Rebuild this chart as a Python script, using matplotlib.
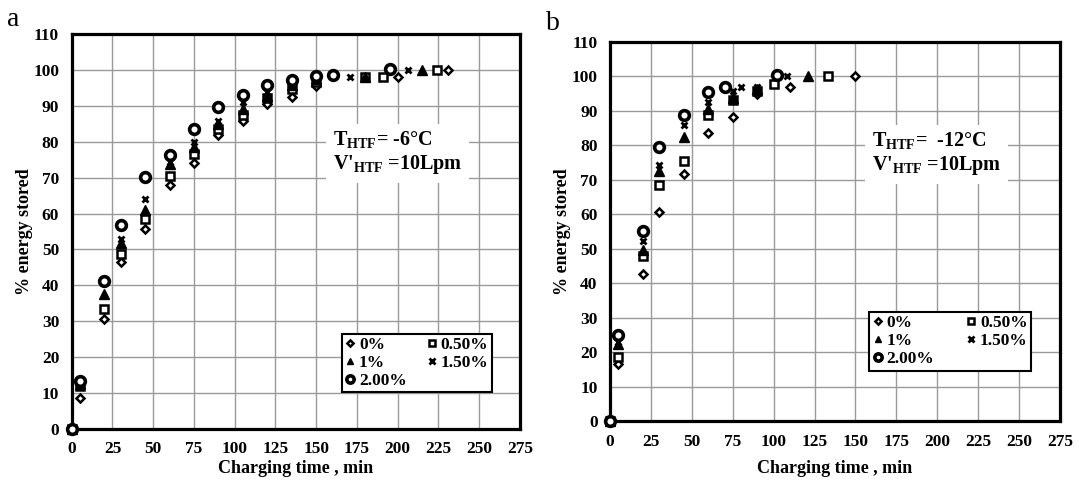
import matplotlib
matplotlib.use("Agg")
import matplotlib.pyplot as plt

plt.rcParams['font.family'] = ['Liberation Serif', 'DejaVu Serif']
plt.rcParams['mathtext.fontset'] = 'custom'
plt.rcParams['mathtext.rm'] = 'Liberation Serif:bold'
plt.rcParams['mathtext.it'] = 'Liberation Serif:bold'
plt.rcParams['mathtext.bf'] = 'Liberation Serif:bold'

labels = ["0%", "0.50%", "1%", "1.50%", "2.00%"]

# Panel a: T_HTF = -6 C
a_t0 = [0, 5, 20, 30, 45, 60, 75, 90, 105, 120, 135, 150, 200, 231]
a_v0 = [0, 8.7, 30.6, 46.6, 55.7, 67.9, 74.1, 81.8, 85.8, 90.6, 92.6, 95.6, 98.1, 100]
a_t1 = [0, 5, 20, 30, 45, 60, 75, 90, 105, 120, 135, 150, 180, 191, 224]
a_v1 = [0, 11.8, 33.3, 48.8, 58.6, 70.6, 76.5, 83.6, 87.6, 92.2, 94.8, 96.8, 98.1, 98.1, 100]
a_t2 = [0, 5, 20, 30, 45, 60, 75, 90, 105, 120, 135, 150, 180, 215]
a_v2 = [0, 12.5, 37.5, 51.8, 61.0, 73.8, 78.5, 85.0, 89.2, 92.8, 95.8, 97.4, 98.2, 100]
a_t3 = [0, 5, 20, 30, 45, 60, 75, 90, 105, 120, 135, 150, 171, 206]
a_v3 = [0, 13.0, 40.5, 53.0, 64.0, 74.3, 80.0, 85.9, 91.0, 93.8, 96.3, 97.8, 98.2, 100]
a_t4 = [0, 5, 20, 30, 45, 60, 75, 90, 105, 120, 135, 150, 160, 195]
a_v4 = [0, 13.4, 41.3, 56.8, 70.1, 76.3, 83.5, 89.6, 93.2, 95.9, 97.3, 98.3, 98.7, 100.3]

# Panel b: T_HTF = -12 C
b_t0 = [0, 5, 20, 30, 45, 60, 75, 90, 110, 150]
b_v0 = [0, 16.4, 42.7, 60.5, 71.6, 83.4, 88.3, 94.8, 97.0, 100]
b_t1 = [0, 5, 20, 30, 45, 60, 75, 90, 100, 133]
b_v1 = [0, 18.6, 47.9, 68.3, 75.3, 88.8, 93.1, 95.8, 97.6, 100]
b_t2 = [0, 5, 20, 30, 45, 60, 75, 90, 121]
b_v2 = [0, 22.2, 49.6, 72.4, 82.4, 90.5, 93.8, 96.3, 100]
b_t3 = [0, 5, 20, 30, 45, 60, 75, 80, 90, 108]
b_v3 = [0, 23.0, 52.2, 74.2, 85.8, 92.6, 95.6, 96.9, 96.8, 100]
b_t4 = [0, 5, 20, 30, 45, 60, 70, 102]
b_v4 = [0, 25.0, 55.0, 79.6, 88.6, 95.3, 96.8, 100.4]

x_ticks = list(range(0, 276, 25))
y_ticks = list(range(0, 111, 10))

styles = [
    dict(marker='D', ms=4.2, mfc='white', mec='black', mew=1.8),
    dict(marker='s', ms=5.2, mfc='white', mec='black', mew=1.8),
    dict(marker='^', ms=6.5, mfc='black', mec='black', mew=1.0),
    dict(marker='x', ms=5.0, mfc='black', mec='black', mew=2.0),
    dict(marker='o', ms=7.0, mfc='white', mec='black', mew=2.6),
]

fig = plt.figure(figsize=(10.79, 4.86), dpi=100)
W, H = 1079, 486

def make_axes(l, r, t, b):
    return fig.add_axes([l / W, 1 - b / H, (r - l) / W, (b - t) / H])

ax_a = make_axes(71.7, 520, 34.3, 428.7)
ax_b = make_axes(610, 1060, 41.7, 421)

panels = [
    (ax_a, [(a_t0, a_v0), (a_t1, a_v1), (a_t2, a_v2), (a_t3, a_v3), (a_t4, a_v4)],
     r"T$_{\rm HTF}$= -6°C", r"V$'_{\rm HTF}$ =10Lpm", (0.602, 0.092, 0.335, 0.146),
     77.0, -0.079),
    (ax_b, [(b_t0, b_v0), (b_t1, b_v1), (b_t2, b_v2), (b_t3, b_v3), (b_t4, b_v4)],
     r"T$_{\rm HTF}$=  -12°C", r"V$'_{\rm HTF}$ =10Lpm", (0.576, 0.133, 0.36, 0.153),
     77.5, -0.103),
]

for ax, series, line1, line2, lbox, ty, xly in panels:
    handles = []
    for (t, v), st, lab in zip(series, styles, labels):
        h, = ax.plot(t, v, linestyle='none', clip_on=False, zorder=3, label=lab, **st)
        handles.append(h)
    ax.set_xlim(0, 275)
    ax.set_ylim(0, 110)
    ax.set_xticks(x_ticks)
    ax.set_yticks(y_ticks)
    ax.grid(True, color='#9a9a9a', linewidth=1.0)
    ax.set_axisbelow(True)
    for sp in ax.spines.values():
        sp.set_linewidth(2.3)
        sp.set_color('black')
    ax.tick_params(length=0, pad=9, labelsize=12.5)
    for lab in ax.get_xticklabels() + ax.get_yticklabels():
        lab.set_fontweight('bold')
    ax.set_xlabel("Charging time , min", fontsize=13, fontweight='bold')
    ax.xaxis.set_label_coords(0.5, xly)
    ax.set_ylabel("% energy stored", fontsize=13, fontweight='bold')
    ax.yaxis.set_label_coords(-0.087, 0.5)
    ax.text(160, ty, line1 + "\n" + line2, fontsize=14.5, fontweight='bold',
            va='center', ha='left', linespacing=1.2, zorder=4,
            bbox=dict(facecolor='white', edgecolor='none', pad=5))
    order = [0, 2, 4, 1, 3]
    leg = ax.legend([handles[i] for i in order], [labels[i] for i in order],
                    ncol=2, loc='lower left', bbox_to_anchor=lbox, mode='expand',
                    fancybox=False, framealpha=1, edgecolor='black',
                    prop=dict(family='Liberation Serif', weight='bold', size=12.5),
                    handlelength=0.6, handletextpad=0.2, borderpad=0.2,
                    labelspacing=0.1, borderaxespad=0, markerscale=0.75)
    leg.get_frame().set_linewidth(1.5)
    leg.set_zorder(5)

fig.text(7 / W, 1 - 26 / H, 'a', fontsize=20, va='baseline')
fig.text(546 / W, 1 - 30 / H, 'b', fontsize=20, va='baseline')

fig.savefig('out.png', dpi=100)
